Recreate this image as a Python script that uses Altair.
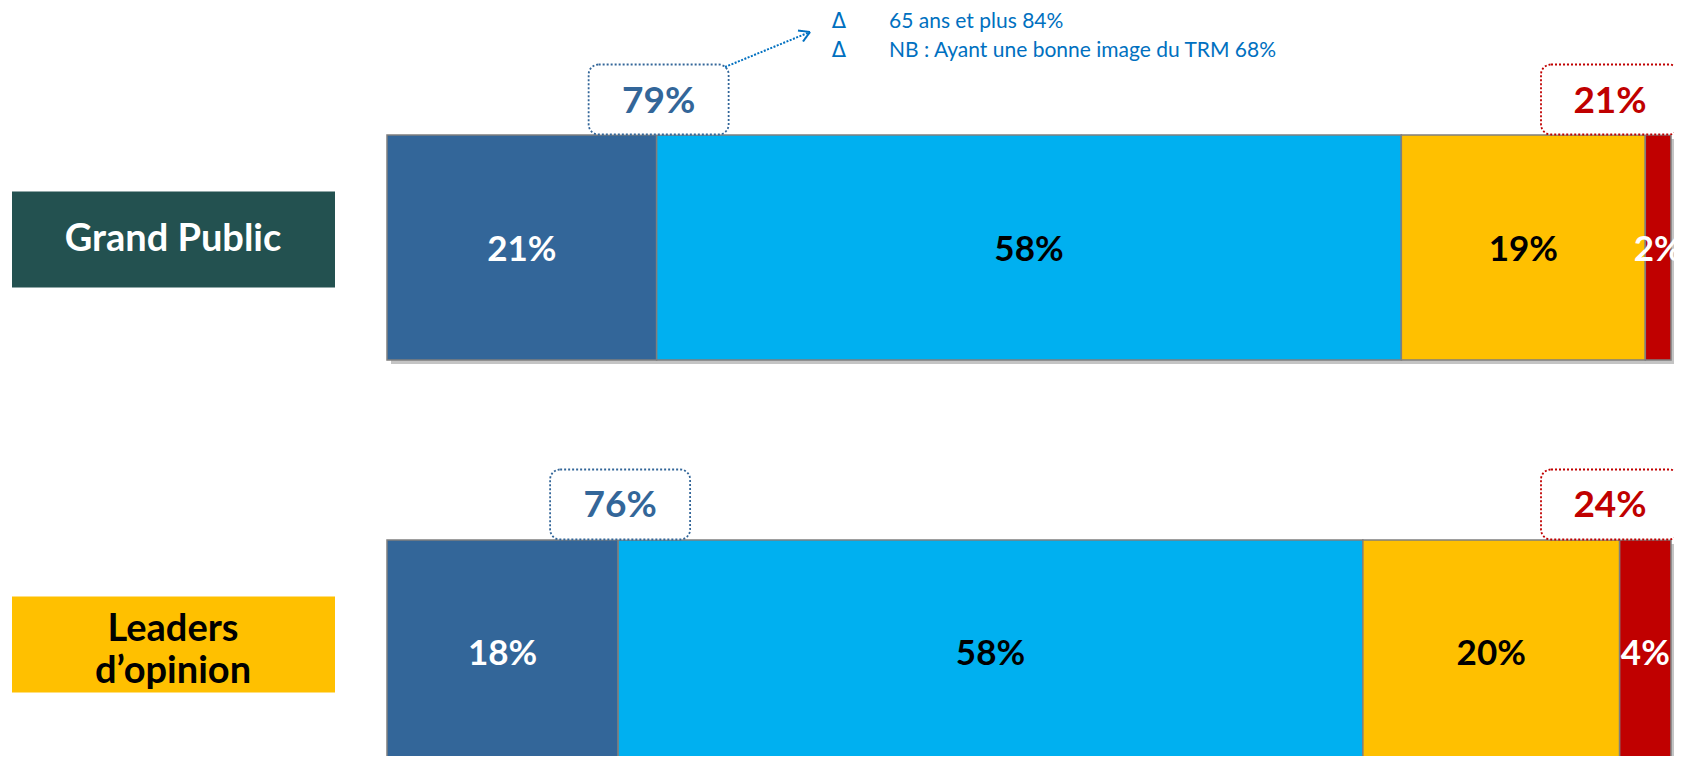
import altair as alt
import pandas as pd

# ---------------- data ----------------
groups = ["Grand Public", "Leaders d’opinion"]
group_text_lines = ["Grand Public", "Leaders\nd’opinion"]
segments = ["Très bonne image", "Assez bonne image", "Assez mauvaise image", "Très mauvaise image"]
grand_public = [21, 58, 19, 2]
leaders = [18, 58, 20, 4]
total_positive = [79, 76]
total_negative = [21, 24]
note_lines = ["65 ans et plus 84%", "NB : Ayant une bonne image du TRM 68%"]

# ---------------- styles ----------------
seg_fill = ["#336699", "#00B0F0", "#FFC000", "#C00000"]
seg_text = ["#FFFFFF", "#000000", "#000000", "#FFFFFF"]
group_fill = ["#235150", "#FFC000"]
group_text = ["#FFFFFF", "#000000"]
BLUE = "#336699"
RED = "#C00000"
NOTE = "#0070C0"
FONT = "Lato"

rows = []
for g, vals in zip(groups, [grand_public, leaders]):
    start = 0
    for s, v, f, t in zip(segments, vals, seg_fill, seg_text):
        rows.append(dict(group=g, segment=s, value=v, x0=start, x1=start + v,
                         mid=start + v / 2, label=f"{v}%", fill=f, tcolor=t))
        start += v
seg_df = pd.DataFrame(rows)

grp_df = pd.DataFrame(dict(group=groups, lines=group_text_lines, fill=group_fill,
                           tcolor=group_text, x0=[0, 0], x1=[100, 100]))

pos_df = pd.DataFrame(dict(group=groups, xc=[grand_public[0], leaders[0]],
                           label=[f"{v}%" for v in total_positive]))
neg_df = pd.DataFrame(dict(group=groups, xc=[100, 100],
                           label=[f"{v}%" for v in total_negative]))

xscale = alt.Scale(domain=[0, 100], range=[379, 1663])
yscale = alt.Scale(domain=groups, range=[127, 757], paddingInner=0.4444, paddingOuter=0)
Y = alt.Y("group:N", scale=yscale, axis=None)

# shadow behind the bars
shadow = alt.Chart(grp_df).mark_bar(color="#C4C4C4", xOffset=4, x2Offset=4, yOffset=4).encode(
    x=alt.X("x0:Q", scale=xscale, axis=None), x2="x1:Q", y=Y)

bars = alt.Chart(seg_df).mark_bar(stroke="#7F7F7F", strokeWidth=1.5).encode(
    x=alt.X("x0:Q", scale=xscale, axis=None), x2="x1:Q", y=Y,
    fill=alt.Fill("fill:N", scale=None))

seg_labels = alt.Chart(seg_df).mark_text(font=FONT, fontSize=35, fontWeight="bold",
                                         baseline="middle", dy=2).encode(
    x=alt.X("mid:Q", scale=xscale, axis=None), y=Y, text="label:N",
    color=alt.Color("tcolor:N", scale=None))

# group label boxes on the left
grp_boxes = alt.Chart(grp_df).mark_bar(size=96, yOffset=-8).encode(
    x=alt.value(4), x2=alt.value(327), y=Y, fill=alt.Fill("fill:N", scale=None))
grp_label_layers = []
for g, lines in zip(groups, group_text_lines):
    n = lines.count("\n") + 1
    grp_label_layers.append(
        alt.Chart(grp_df).transform_filter(alt.datum.group == g).mark_text(
            font=FONT, fontSize=38, fontWeight="bold", lineBreak="\n", lineHeight=42,
            baseline="middle", dy=-8 - (n - 1) * 14).encode(
            x=alt.value(165), y=Y, text="lines:N", color=alt.Color("tcolor:N", scale=None)))

# callout boxes
pos_box = alt.Chart(pos_df).mark_bar(size=70, yOffset=-148, xOffset=-68, x2Offset=72,
                                     cornerRadius=10, fill="white", stroke=BLUE,
                                     strokeDash=[2, 2], strokeWidth=1.8).encode(
    x=alt.X("xc:Q", scale=xscale, axis=None), x2="xc:Q", y=Y)
pos_txt = alt.Chart(pos_df).mark_text(font=FONT, fontSize=37, fontWeight="bold", color=BLUE,
                                      baseline="middle", dy=-146, dx=2).encode(
    x=alt.X("xc:Q", scale=xscale, axis=None), y=Y, text="label:N")
neg_box = alt.Chart(neg_df).mark_bar(size=70, yOffset=-148, xOffset=-130, x2Offset=8,
                                     cornerRadius=10, fill="white", stroke=RED,
                                     strokeDash=[2, 2], strokeWidth=1.8).encode(
    x=alt.X("xc:Q", scale=xscale, axis=None), x2="xc:Q", y=Y)
neg_txt = alt.Chart(neg_df).mark_text(font=FONT, fontSize=37, fontWeight="bold", color=RED,
                                      baseline="middle", dy=-146, dx=-61).encode(
    x=alt.X("xc:Q", scale=xscale, axis=None), y=Y, text="label:N")

# dotted arrow to the note
arrow_layers = []
for (x1, y1, x2, y2) in [(717, 59, 802, 24), (802, 24, 790, 22.5), (802, 24, 795, 33.5)]:
    arrow_layers.append(
        alt.Chart(pd.DataFrame({"k": [0]})).mark_rule(color=NOTE, strokeWidth=2,
                                                       strokeDash=[2, 1.5] if x1 == 717 else [1, 0]).encode(
            x=alt.value(x1), y=alt.value(y1), x2=alt.value(x2), y2=alt.value(y2)))

note_layers = []
for i, line in enumerate(note_lines):
    yy = 14 + 29 * i
    note_layers.append(alt.Chart(pd.DataFrame({"t": ["Δ"]})).mark_text(
        font="DejaVu Sans", fontSize=21, color=NOTE, baseline="middle").encode(
        x=alt.value(831), y=alt.value(yy), text="t:N"))
    note_layers.append(alt.Chart(pd.DataFrame({"t": [line]})).mark_text(
        font=FONT, fontSize=21, color=NOTE, baseline="middle", align="left").encode(
        x=alt.value(881), y=alt.value(yy), text="t:N"))

chart = alt.layer(shadow, bars, seg_labels, grp_boxes, *grp_label_layers,
                  pos_box, pos_txt, neg_box, neg_txt, *arrow_layers, *note_layers).properties(
    width=1666, height=748, autosize="none", padding=0, background="white"
).configure_view(stroke=None)

chart.save("out.html", embed_options={"renderer": "svg", "actions": False})
